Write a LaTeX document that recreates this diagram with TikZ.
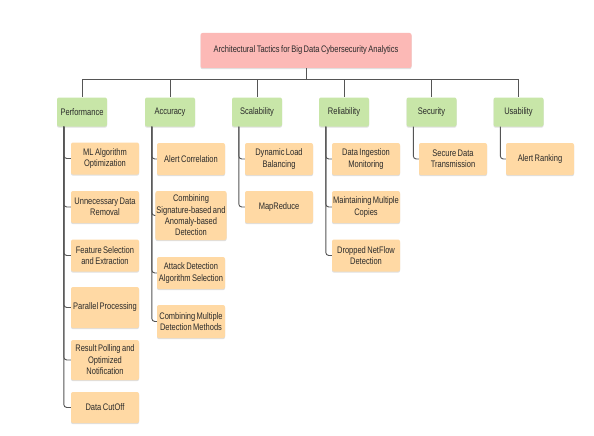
\documentclass[tikz,border=0pt]{standalone}
\usepackage{fontspec}
\setmainfont{Liberation Sans}[FakeStretch=0.79, WordSpace=0.7]
\usetikzlibrary{shadows}
\definecolor{rootfill}{HTML}{FCB9B6}
\definecolor{catfill}{HTML}{C8E6A8}
\definecolor{leaffill}{HTML}{FFD9A4}
\definecolor{linecol}{HTML}{555555}
\definecolor{txtcol}{HTML}{2A2A2A}
\tikzset{
  boxbase/.style={rounded corners=2pt, align=center, inner sep=1pt, text=txtcol,
    font=\fontsize{9.5}{11.4}\selectfont,
    drop shadow={shadow xshift=0pt, shadow yshift=-1.2pt, opacity=0.25, fill=black!50}},
  rootbox/.style={boxbase, fill=rootfill, minimum width=211pt, minimum height=35pt},
  catbox/.style={boxbase, fill=catfill, minimum width=50pt, minimum height=29pt},
  leafbox/.style={boxbase, fill=leaffill, minimum width=68pt, minimum height=32pt},
  conn/.style={draw=linecol, line width=0.9pt},
  leafconn/.style={draw=linecol, line width=0.9pt, rounded corners=3pt}
}
\begin{document}
\begin{tikzpicture}[x=1pt,y=-1pt]
\useasboundingbox[fill=white] (0,0) rectangle (594,436);
\node[rootbox] (root) at (306,50.5) {Architectural Tactics for Big Data Cybersecurity Analytics};
\node[catbox] (perf) at (82,112) {Performance};
\node[catbox] (acc) at (170,112) {Accuracy};
\node[catbox] (scal) at (257,112) {Scalability};
\node[catbox] (rel) at (344,112) {Reliability};
\node[catbox] (sec) at (431.5,112) {Security};
\node[catbox] (usa) at (518.5,112) {Usability};
% Performance
\node[leafbox] (p1) at (105,158.5) {ML Algorithm\\Optimization};
\node[leafbox] (p2) at (105,207) {Unnecessary Data\\Removal};
\node[leafbox] (p3) at (105,255.5) {Feature Selection\\and Extraction};
\node[leafbox, minimum height=41pt] (p4) at (105,307.5) {Parallel Processing};
\node[leafbox, minimum height=40pt] (p5) at (105,360) {Result Polling and\\Optimized\\Notification};
\node[leafbox, minimum height=31pt] (p6) at (105,407.5) {Data CutOff};
% Accuracy
\node[leafbox] (a1) at (191,159) {Alert Correlation};
\node[leafbox, minimum height=49pt] (a2) at (191,215.5) {Combining\\Signature-based and\\Anomaly-based\\Detection};
\node[leafbox] (a3) at (191,273) {Attack Detection\\Algorithm Selection};
\node[leafbox, minimum height=33pt] (a4) at (191,321.5) {Combining Multiple\\Detection Methods};
% Scalability
\node[leafbox] (s1) at (279,159) {Dynamic Load\\Balancing};
\node[leafbox] (s2) at (279,207) {MapReduce};
% Reliability
\node[leafbox] (r1) at (366,159) {Data Ingestion\\Monitoring};
\node[leafbox] (r2) at (366,207) {Maintaining Multiple\\Copies};
\node[leafbox] (r3) at (366,255.5) {Dropped NetFlow\\Detection};
% Security
\node[leafbox] (se1) at (453,159) {Secure Data\\Transmission};
% Usability
\node[leafbox] (u1) at (540,159) {Alert Ranking};
% bus
\coordinate (bus) at (306,79);
\foreach \c in {perf,acc,scal,rel,sec,usa}{
  \draw[conn] (root.south) -- (bus) -| (\c.north);
}
% leaf connectors
\foreach \c/\l in {perf/p1,perf/p2,perf/p3,perf/p4,perf/p5,perf/p6,acc/a1,acc/a2,acc/a3,acc/a4,scal/s1,scal/s2,rel/r1,rel/r2,rel/r3,sec/se1,usa/u1}{
  \draw[leafconn] ([xshift=7pt]\c.south west) |- (\l.west);
}
\end{tikzpicture}
\end{document}
